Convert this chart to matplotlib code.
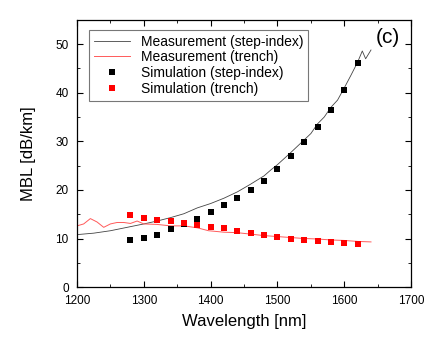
import matplotlib
matplotlib.use("Agg")
import matplotlib.pyplot as plt
from matplotlib.ticker import MultipleLocator

plt.rcParams['font.family'] = ['Liberation Sans', 'DejaVu Sans']

# measurement, step-index fibre
meas_si_wl = [1200, 1225, 1250, 1275, 1300, 1320, 1340, 1360, 1370, 1380, 1400,
              1420, 1440, 1460, 1480, 1490, 1500, 1520, 1540, 1550, 1560, 1570,
              1580, 1590, 1600, 1610, 1620, 1627, 1632, 1640]
meas_si_mbl = [10.8, 11.1, 11.6, 12.3, 13.0, 13.6, 14.3, 15.1, 15.7, 16.3, 17.2,
               18.3, 19.6, 21.2, 22.9, 24.1, 25.2, 27.7, 30.3, 31.6, 33.6, 35.0,
               37.0, 38.5, 41.0, 43.6, 46.3, 48.6, 47.0, 48.8]

# measurement, trench fibre
meas_tr_wl = [1200, 1210, 1220, 1230, 1240, 1250, 1260, 1270, 1280, 1290, 1300,
              1320, 1340, 1360, 1380, 1397, 1420, 1440, 1460, 1480, 1500, 1520,
              1540, 1560, 1580, 1600, 1620, 1640]
meas_tr_mbl = [12.6, 13.0, 14.1, 13.4, 12.3, 13.0, 13.3, 13.3, 13.1, 13.6, 13.0,
               12.9, 12.6, 12.6, 12.2, 11.6, 11.3, 11.2, 10.9, 10.6, 10.4, 10.2,
               10.0, 9.9, 9.7, 9.6, 9.4, 9.3]

# simulations
sim_wl = [1280, 1300, 1320, 1340, 1360, 1380, 1400, 1420, 1440, 1460, 1480,
          1500, 1520, 1540, 1560, 1580, 1600, 1620]
sim_si = [9.7, 10.2, 10.8, 11.9, 12.9, 14.1, 15.4, 16.8, 18.4, 19.9, 21.9,
          24.3, 27.0, 29.8, 33.0, 36.4, 40.5, 46.1]
sim_tr = [14.8, 14.3, 13.9, 13.6, 13.2, 12.8, 12.4, 12.1, 11.6, 11.1, 10.7,
          10.4, 10.0, 9.7, 9.5, 9.3, 9.0, 8.9]

fig = plt.figure(figsize=(4.35, 3.43), dpi=100)
ax = fig.add_axes([0.177, 0.163, 0.768, 0.779])

ax.plot(meas_si_wl, meas_si_mbl, color='#444444', lw=0.6, label="Measurement (step-index)")
ax.plot(meas_tr_wl, meas_tr_mbl, color='#ff5a5a', lw=0.7, label="Measurement (trench)")
ax.plot(sim_wl, sim_si, 's', color='black', ms=5, mew=0, label="Simulation (step-index)")
ax.plot(sim_wl, sim_tr, 's', color='red', ms=5, mew=0, label="Simulation (trench)")

ax.set_xlim(1200, 1700)
ax.set_ylim(0, 55)
ax.xaxis.set_major_locator(MultipleLocator(100))
ax.xaxis.set_minor_locator(MultipleLocator(50))
ax.yaxis.set_major_locator(MultipleLocator(10))
ax.yaxis.set_minor_locator(MultipleLocator(5))
ax.tick_params(which='both', direction='in', top=True, right=True, labelsize=8.5)
ax.tick_params(which='major', length=4, pad=6)
ax.tick_params(which='minor', length=2.5)
for s in ax.spines.values():
    s.set_linewidth(0.9)

ax.set_xlabel("Wavelength [nm]", fontsize=12, labelpad=5)
ax.set_ylabel("MBL [dB/km]", fontsize=12, labelpad=14)
ax.text(1665, 51.4, "(c)", fontsize=15, ha='center', va='center')

leg = ax.legend(loc='upper left', bbox_to_anchor=(0.036, 0.963), fontsize=10,
                frameon=True, fancybox=False, borderaxespad=0, handlelength=2.6,
                borderpad=0.35, labelspacing=0.12, markerscale=0.8)
leg.get_frame().set_edgecolor('#555555')
leg.get_frame().set_linewidth(0.8)

fig.savefig("out.png", dpi=100)
